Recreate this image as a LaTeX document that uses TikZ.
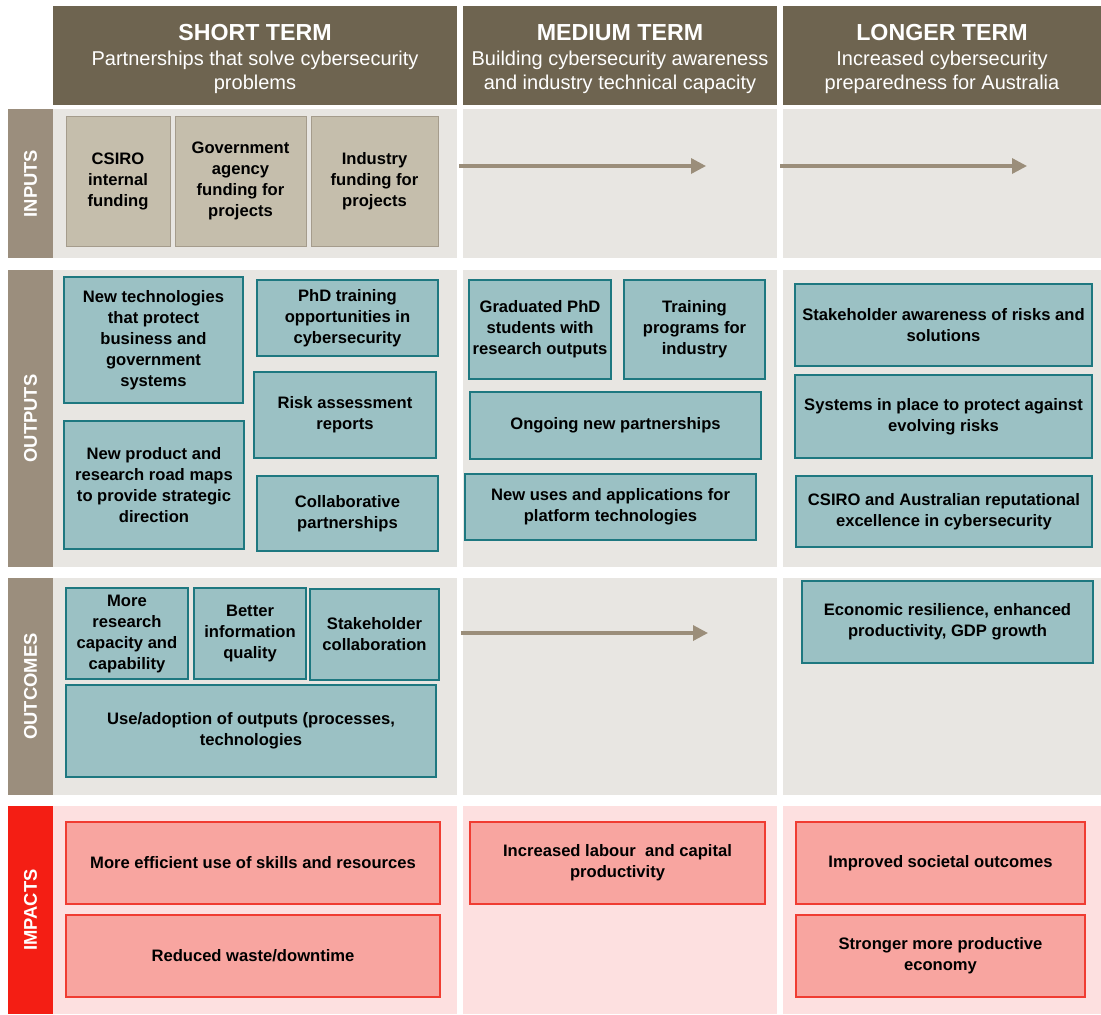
\documentclass[tikz,border=0pt]{standalone}
\usepackage{fontspec}
\setmainfont{Liberation Sans}
\usetikzlibrary{arrows.meta}

\definecolor{headbrown}{RGB}{110,100,80}
\definecolor{stripgray}{RGB}{155,142,125}
\definecolor{stripred}{RGB}{244,30,20}
\definecolor{cellgray}{RGB}{232,230,226}
\definecolor{cellpink}{RGB}{253,224,224}
\definecolor{inputfill}{RGB}{197,190,172}
\definecolor{inputline}{RGB}{165,156,140}
\definecolor{tealfill}{RGB}{155,193,196}
\definecolor{tealline}{RGB}{30,120,128}
\definecolor{pinkfill}{RGB}{248,165,160}
\definecolor{pinkline}{RGB}{240,60,50}
\definecolor{arrowgray}{RGB}{155,142,122}

\tikzset{
  boxbase/.style={draw,line width=0.7pt,inner sep=0pt,align=center,
    font=\fontsize{8.3}{10.5}\selectfont\bfseries},
  inbox/.style={boxbase,fill=inputfill,draw=inputline,line width=0.5pt},
  outbox/.style={boxbase,fill=tealfill,draw=tealline},
  impbox/.style={boxbase,fill=pinkfill,draw=pinkline},
  headbox/.style={fill=headbrown,inner sep=0pt},
  headtitle/.style={text=white,font=\fontsize{11.6}{13}\selectfont\bfseries},
  headsub/.style={text=white,align=center,font=\fontsize{10}{12}\selectfont},
  rowlabel/.style={text=white,rotate=90,font=\fontsize{9.2}{11}\selectfont\bfseries},
  flowarrow/.style={draw=arrowgray,line width=1.65pt,
    -{Triangle[length=7.5pt,width=7.5pt]}}
}

\begin{document}
\begin{tikzpicture}[x=0.5pt,y=-0.5pt]
\useasboundingbox (0,0) rectangle (1101,1014);

%% column headers
\foreach \nm/\xa/\xb/\ttl/\sub in {
  short/53/457/{SHORT TERM}/{Partnerships that solve cybersecurity\\problems},
  medium/463/777/{MEDIUM TERM}/{Building cybersecurity awareness\\and industry technical capacity},
  long/783/1101/{LONGER TERM}/{Increased cybersecurity\\preparedness for Australia}}
{
  \node[headbox,minimum width={(\xb-\xa)*0.5pt},minimum height=49.5pt]
    (h\nm) at ({(\xa+\xb)/2},55.5) {};
  \node[headtitle] (t\nm) at ({(\xa+\xb)/2},33) {\ttl};
  \node[headsub] (s\nm) at ({(\xa+\xb)/2},72) {\sub};
}

%% row strips and cell backgrounds
\foreach \row/\ya/\yb/\strip/\cell in {
  inputs/109/258/stripgray/cellgray, outputs/270/567/stripgray/cellgray,
  outcomes/578/795/stripgray/cellgray, impacts/806/1014/stripred/cellpink}
{
  \fill[\strip] (8,\ya) rectangle (53,\yb);
  \fill[\cell] (53,\ya) rectangle (457,\yb);
  \fill[\cell] (463,\ya) rectangle (777,\yb);
  \fill[\cell] (783,\ya) rectangle (1101,\yb);
}

%% row labels
\node[rowlabel] (linputs) at (30.5,183.5) {INPUTS};
\node[rowlabel] (loutputs) at (30.5,418.5) {OUTPUTS};
\node[rowlabel] (loutcomes) at (30.5,686.5) {OUTCOMES};
\node[rowlabel] (limpacts) at (30.5,910) {IMPACTS};

%% inputs
\foreach \nm/\xa/\ya/\xb/\yb/\txt in {
  in1/66/116/170/246/{CSIRO\\internal\\funding},
  in2/175/116/306/246/{Government\\agency\\funding for\\projects},
  in3/311/116/438/246/{Industry\\funding for\\projects}}
{
  \node[inbox,minimum width={(\xb-\xa)*0.5pt},minimum height={(\yb-\ya)*0.5pt}]
    (\nm) at ({(\xa+\xb)/2},{(\ya+\yb)/2}) {\txt};
}

%% outputs
\foreach \nm/\xa/\ya/\xb/\yb/\txt in {
  out1/64/277/243/403/{New technologies\\that protect\\business and\\government\\systems},
  out2/257/280/438/356/{PhD training\\opportunities in\\cybersecurity},
  out3/254/372/436/458/{Risk assessment\\reports},
  out4/64/421/244/549/{New product and\\research road maps\\to provide strategic\\direction},
  out5/257/476/438/551/{Collaborative\\partnerships},
  out6/469/280/611/379/{Graduated PhD\\students with\\research outputs},
  out7/624/280/765/379/{Training\\programs for\\industry},
  out8/470/392/761/459/{Ongoing new partnerships},
  out9/465/474/756/540/{New uses and applications for\\platform technologies},
  out10/795/284/1092/366/{Stakeholder awareness of risks and\\solutions},
  out11/795/375/1092/458/{Systems in place to protect against\\evolving risks},
  out12/796/476/1092/547/{CSIRO and Australian reputational\\excellence in cybersecurity}}
{
  \node[outbox,minimum width={(\xb-\xa)*0.5pt},minimum height={(\yb-\ya)*0.5pt}]
    (\nm) at ({(\xa+\xb)/2},{(\ya+\yb)/2}) {\txt};
}

%% outcomes
\foreach \nm/\xa/\ya/\xb/\yb/\txt in {
  oc1/66/588/188/679/{More\\research\\capacity and\\capability},
  oc2/194/588/306/679/{Better\\information\\quality},
  oc3/310/589/439/680/{Stakeholder\\collaboration},
  oc4/66/685/436/777/{Use/adoption of outputs (processes,\\technologies},
  oc5/802/581/1093/663/{Economic resilience, enhanced\\productivity, GDP growth}}
{
  \node[outbox,minimum width={(\xb-\xa)*0.5pt},minimum height={(\yb-\ya)*0.5pt}]
    (\nm) at ({(\xa+\xb)/2},{(\ya+\yb)/2}) {\txt};
}

%% impacts
\foreach \nm/\xa/\ya/\xb/\yb/\txt in {
  im1/66/822/440/904/{More efficient use of skills and resources},
  im2/66/915/440/997/{Reduced waste/downtime},
  im3/470/822/765/904/{Increased labour~ and capital\\productivity},
  im4/796/822/1085/904/{Improved societal outcomes},
  im5/796/915/1085/997/{Stronger more productive\\economy}}
{
  \node[impbox,minimum width={(\xb-\xa)*0.5pt},minimum height={(\yb-\ya)*0.5pt}]
    (\nm) at ({(\xa+\xb)/2},{(\ya+\yb)/2}) {\txt};
}

%% carry-over arrows
\coordinate (ain1) at (459,166);
\coordinate (aout1) at (706,166);
\coordinate (ain2) at (780,166);
\coordinate (aout2) at (1027,166);
\coordinate (ain3) at (461,633);
\coordinate (aout3) at (708,633);
\draw[flowarrow] (ain1) -- (aout1);
\draw[flowarrow] (ain2) -- (aout2);
\draw[flowarrow] (ain3) -- (aout3);
\end{tikzpicture}
\end{document}
